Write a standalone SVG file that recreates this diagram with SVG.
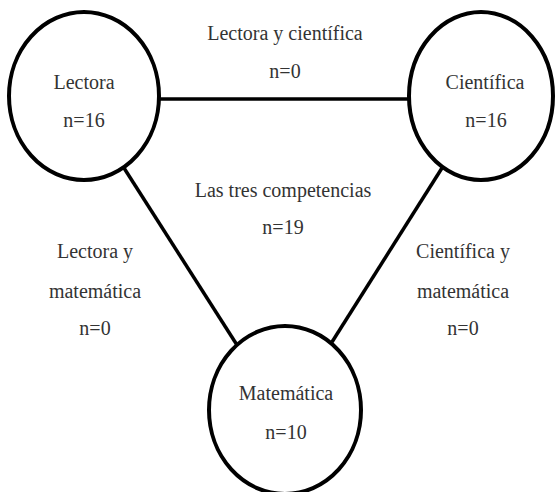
<svg xmlns="http://www.w3.org/2000/svg" width="555" height="492" viewBox="0 0 555 492">
<style>
.node{fill:#fff;stroke:#000;stroke-width:4}
.edge{stroke:#000;stroke-width:3.5;fill:none}
text{font-family:"Liberation Serif","DejaVu Serif",serif;font-size:20px;fill:#333;text-anchor:middle}
</style>
<rect width="555" height="492" fill="#fff"/>
<g id="connectors">
<line class="edge" x1="159" y1="99" x2="409" y2="99"/>
<line class="edge" x1="124" y1="168" x2="237" y2="345"/>
<line class="edge" x1="442" y1="168" x2="332" y2="342"/>
</g>
<g id="lectora">
<ellipse class="node" cx="84" cy="96" rx="75" ry="84"/>
<text x="84" y="89">Lectora</text>
<text x="84" y="127">n=16</text>
</g>
<g id="cientifica">
<ellipse class="node" cx="481" cy="96" rx="72" ry="84"/>
<text x="485" y="89">Científica</text>
<text x="486" y="127">n=16</text>
</g>
<g id="matematica">
<ellipse class="node" cx="285" cy="410" rx="76" ry="84"/>
<text x="286" y="400">Matemática</text>
<text x="286" y="439">n=10</text>
</g>
<g id="labels">
<text x="285" y="40">Lectora y científica</text>
<text x="285" y="78">n=0</text>
<text x="283" y="197">Las tres competencias</text>
<text x="283" y="234">n=19</text>
<text x="95" y="258">Lectora y</text>
<text x="95" y="298">matemática</text>
<text x="95" y="335">n=0</text>
<text x="463" y="258">Científica y</text>
<text x="463" y="298">matemática</text>
<text x="463" y="335">n=0</text>
</g>
</svg>
